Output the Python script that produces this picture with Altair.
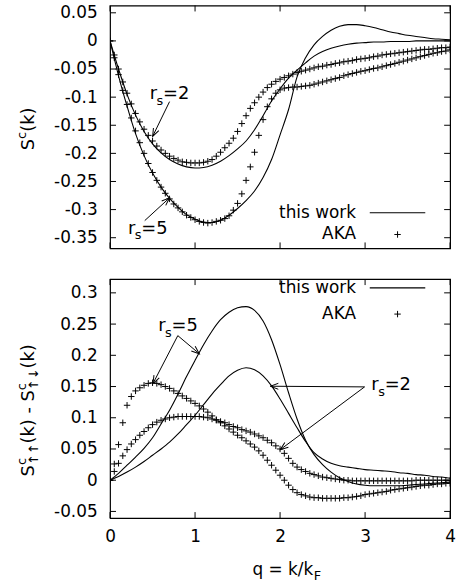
import math
import altair as alt
import pandas as pd

# ---------------- data ----------------
Q_LINE = [round(0.1 * i, 2) for i in range(41)]    # q grid of the solid curves
Q_AKA = [round(0.05 * i, 2) for i in range(81)]    # q grid of the AKA points

# upper panel: S^c(k)
TOP_THIS_RS2 = [0.0, -0.050, -0.095, -0.132, -0.161, -0.183, -0.199, -0.211, -0.219, -0.224,
                -0.226, -0.225, -0.221, -0.214, -0.204, -0.192, -0.178, -0.158, -0.133, -0.107,
                -0.085, -0.066, -0.052, -0.039, -0.027, -0.019, -0.013, -0.009, -0.006, -0.004,
                -0.003, -0.002, -0.002, -0.001, -0.001, -0.001, 0.0, 0.0, 0.0, 0.0, 0.0]
TOP_THIS_RS5 = [0.0, -0.062, -0.116, -0.165, -0.204, -0.235, -0.260, -0.280, -0.296, -0.309,
                -0.317, -0.322, -0.323, -0.319, -0.310, -0.298, -0.284, -0.267, -0.243, -0.211,
                -0.167, -0.122, -0.064, -0.030, -0.007, 0.008, 0.019, 0.026, 0.029, 0.029,
                0.027, 0.024, 0.020, 0.016, 0.013, 0.010, 0.008, 0.006, 0.004, 0.003, 0.002]
TOP_AKA_RS2 = [0.0, -0.025, -0.050, -0.073, -0.093, -0.112, -0.129, -0.144, -0.157, -0.168,
               -0.178, -0.187, -0.194, -0.200, -0.205, -0.209, -0.212, -0.215, -0.216, -0.217,
               -0.217, -0.217, -0.216, -0.214, -0.211, -0.205, -0.198, -0.190, -0.182, -0.173,
               -0.161, -0.147, -0.133, -0.120, -0.110, -0.100, -0.091, -0.083, -0.077, -0.072,
               -0.068, -0.065, -0.062, -0.059, -0.056, -0.054, -0.052, -0.050, -0.048, -0.046,
               -0.045, -0.043, -0.042, -0.040, -0.039, -0.037, -0.036, -0.035, -0.033, -0.032,
               -0.031, -0.030, -0.028, -0.027, -0.025, -0.024, -0.023, -0.022, -0.021, -0.020,
               -0.019, -0.018, -0.017, -0.016, -0.015, -0.015, -0.014, -0.013, -0.012, -0.012,
               -0.011]
TOP_AKA_RS5 = [0.0, -0.030, -0.060, -0.088, -0.113, -0.137, -0.160, -0.181, -0.200, -0.218,
               -0.234, -0.248, -0.260, -0.271, -0.281, -0.290, -0.297, -0.304, -0.310, -0.314,
               -0.318, -0.321, -0.323, -0.324, -0.323, -0.321, -0.319, -0.316, -0.311, -0.301,
               -0.289, -0.272, -0.248, -0.224, -0.198, -0.168, -0.140, -0.117, -0.103, -0.093,
               -0.087, -0.084, -0.083, -0.082, -0.082, -0.081, -0.080, -0.079, -0.077, -0.075,
               -0.073, -0.071, -0.069, -0.067, -0.065, -0.062, -0.060, -0.058, -0.056, -0.054,
               -0.053, -0.051, -0.049, -0.048, -0.046, -0.044, -0.042, -0.040, -0.038, -0.036,
               -0.034, -0.032, -0.030, -0.028, -0.026, -0.024, -0.022, -0.021, -0.019, -0.018,
               -0.016]

# lower panel: S^c_{up up}(k) - S^c_{up down}(k)
BOT_THIS_RS2 = [0.0, 0.006, 0.013, 0.021, 0.030, 0.040, 0.050, 0.061, 0.074, 0.089,
                0.104, 0.121, 0.138, 0.153, 0.167, 0.176, 0.180, 0.177, 0.167, 0.151,
                0.130, 0.107, 0.084, 0.062, 0.044, 0.034, 0.027, 0.023, 0.021, 0.019,
                0.017, 0.016, 0.015, 0.014, 0.012, 0.011, 0.009, 0.008, 0.006, 0.005, 0.003]
BOT_THIS_RS5 = [0.0, 0.011, 0.024, 0.037, 0.051, 0.068, 0.090, 0.112, 0.138, 0.166,
                0.192, 0.217, 0.239, 0.257, 0.269, 0.276, 0.278, 0.272, 0.255, 0.225,
                0.185, 0.140, 0.098, 0.064, 0.041, 0.025, 0.013, 0.004, -0.002, -0.006,
                -0.008, -0.009, -0.009, -0.009, -0.009, -0.008, -0.007, -0.006, -0.005, -0.004, -0.003]
BOT_AKA_RS2 = [0.0, 0.014, 0.027, 0.039, 0.049, 0.058, 0.065, 0.072, 0.078, 0.084,
               0.089, 0.093, 0.096, 0.098, 0.100, 0.101, 0.102, 0.102, 0.102, 0.102,
               0.102, 0.102, 0.101, 0.100, 0.098, 0.096, 0.094, 0.092, 0.089, 0.086,
               0.084, 0.081, 0.079, 0.077, 0.074, 0.071, 0.068, 0.064, 0.060, 0.055,
               0.050, 0.043, 0.035, 0.027, 0.021, 0.017, 0.014, 0.011, 0.009, 0.007,
               0.005, 0.004, 0.003, 0.002, 0.001, 0.000, 0.000, -0.001, -0.001, -0.001,
               -0.001, -0.001, -0.001, -0.001, -0.001, -0.001, -0.001, -0.001, -0.001, -0.001,
               -0.001, -0.001, 0.000, 0.000, 0.000, 0.000, 0.000, 0.000, 0.000, 0.000,
               0.000]
BOT_AKA_RS5 = [0.0, 0.026, 0.057, 0.092, 0.120, 0.134, 0.143, 0.148, 0.152, 0.155,
               0.156, 0.155, 0.153, 0.150, 0.147, 0.143, 0.139, 0.135, 0.131, 0.127,
               0.123, 0.119, 0.114, 0.109, 0.103, 0.097, 0.092, 0.087, 0.082, 0.077,
               0.072, 0.068, 0.063, 0.058, 0.053, 0.047, 0.040, 0.032, 0.024, 0.016,
               0.008, 0.000, -0.008, -0.015, -0.020, -0.023, -0.025, -0.027, -0.028, -0.028,
               -0.029, -0.029, -0.029, -0.029, -0.029, -0.028, -0.028, -0.027, -0.026, -0.025,
               -0.023, -0.022, -0.021, -0.020, -0.019, -0.018, -0.016, -0.015, -0.014, -0.013,
               -0.012, -0.011, -0.010, -0.009, -0.008, -0.008, -0.007, -0.006, -0.006, -0.005,
               -0.005]

X_TICKS = [0, 1, 2, 3, 4]
TOP_Y_TICKS = [-0.35, -0.3, -0.25, -0.2, -0.15, -0.1, -0.05, 0, 0.05]
BOT_Y_TICKS = [-0.05, 0, 0.05, 0.1, 0.15, 0.2, 0.25, 0.3]
TOP_Y_DOMAIN = [-0.369, 0.063]
BOT_Y_DOMAIN = [-0.0606, 0.322]

SERIES_LABELS = ["this work", "AKA"]

# annotations (anchor = baseline-left of the "r", in data units)
TOP_ANN = pd.DataFrame({"q": [0.466, 0.210], "v": [-0.1028, -0.3426], "eq": ["=2", "=5"]})
BOT_ANN = pd.DataFrame({"q": [0.566, 3.073], "v": [0.2394, 0.1442], "eq": ["=5", "=2"]})
TOP_ARROWS = pd.DataFrame({"q": [0.700, 0.408], "v": [-0.1080, -0.3196],
                           "q2": [0.501, 0.700], "v2": [-0.1698, -0.2791]})
BOT_ARROWS = pd.DataFrame({"q": [0.797, 0.797, 2.994, 2.994], "v": [0.2315, 0.2315, 0.1494, 0.1494],
                           "q2": [0.505, 1.050, 1.886, 2.002], "v2": [0.1548, 0.2025, 0.1505, 0.0489]})
# legend placement (data units): label right edge, sample line start/end, row levels
TOP_LEG = dict(qr=2.892, qa=3.055, qb=3.708, qc=3.382, rows=[-0.3055, -0.3443])
BOT_LEG = dict(qr=2.892, qa=3.055, qb=3.708, qc=3.382, rows=[0.3080, 0.2660])

# ---------------- styling ----------------
W = 343
H_TOP = 245
H_BOT = 241
FONT = "DejaVu Sans"
FS = 17
TICK = 6
CROSS = "M-1,0L1,0M0,-1L0,1"
HEAD = "M-2,-0.75L0,0L-2,0.75"
LABEL_EXPR = "datum.value < 0 ? '-' + format(-datum.value, '~g') : format(datum.value, '~g')"
DUMMY = pd.DataFrame({"a": [0]})


def long_df(qs, series_dict):
    rows = []
    for name, vals in series_dict.items():
        for q, v in zip(qs, vals):
            rows.append({"q": q, "v": v, "series": name})
    return pd.DataFrame(rows)


def panel(lines, aka, ydom, H, yticks, ann, arrows, leg, show_x, title_pieces):
    xs = alt.Scale(domain=[0, 4], nice=False, zero=False)
    ys = alt.Scale(domain=ydom, nice=False, zero=False)
    xax = (alt.Axis(values=X_TICKS, format="d", ticks=False, tickSize=0, domain=False, grid=False,
                    labelFlush=False, labelPadding=11, title=None) if show_x else None)
    yax = alt.Axis(values=yticks, labelExpr=LABEL_EXPR, ticks=False, tickSize=0, domain=False,
                   grid=False, labelPadding=13, title=None)

    def X(f="q"):
        return alt.X(f + ":Q", scale=xs, axis=xax)

    def Y(f="v"):
        return alt.Y(f + ":Q", scale=ys, axis=yax)

    layers = []
    layers.append(alt.Chart(lines).mark_line(color="black", strokeWidth=1.1, interpolate="monotone",
                                             clip=True).encode(x=X(), y=Y(), detail="series:N"))
    layers.append(alt.Chart(aka).mark_point(shape=CROSS, size=42, filled=False, color="black",
                                            strokeWidth=1, opacity=1, clip=True)
                  .encode(x=X(), y=Y(), detail="series:N"))

    # inward ticks on all four sides
    xt = pd.DataFrame({"q": X_TICKS})
    yt = pd.DataFrame({"v": yticks})
    rule = dict(color="black", strokeWidth=1)
    layers.append(alt.Chart(xt).mark_rule(**rule).encode(x=X(), y=alt.value(0), y2=alt.value(TICK)))
    layers.append(alt.Chart(xt).mark_rule(**rule).encode(x=X(), y=alt.value(H - TICK), y2=alt.value(H)))
    layers.append(alt.Chart(yt).mark_rule(**rule).encode(y=Y(), x=alt.value(0), x2=alt.value(TICK)))
    layers.append(alt.Chart(yt).mark_rule(**rule).encode(y=Y(), x=alt.value(W - TICK), x2=alt.value(W)))

    # arrows
    span = ydom[1] - ydom[0]
    arr = arrows.copy()
    arr["angle"] = [
        math.degrees(math.atan2(-(r.v2 - r.v) * H / span, (r.q2 - r.q) * W / 4)) % 360
        for r in arr.itertuples()
    ]
    layers.append(alt.Chart(arr).mark_rule(color="black", strokeWidth=1)
                  .encode(x=X(), y=Y(), x2=alt.X2("q2:Q"), y2=alt.Y2("v2:Q")))
    layers.append(alt.Chart(arr).mark_point(shape=HEAD, size=64, filled=False, color="black",
                                            strokeWidth=1, opacity=1)
                  .encode(x=X("q2"), y=Y("v2"), angle=alt.Angle("angle:Q", scale=None)))

    # r_s labels
    tx = dict(align="left", baseline="alphabetic", font=FONT, color="black")
    layers.append(alt.Chart(ann).mark_text(text="r", fontSize=18, **tx).encode(x=X(), y=Y()))
    layers.append(alt.Chart(ann).mark_text(text="s", fontSize=13, dx=7, dy=6, **tx).encode(x=X(), y=Y()))
    layers.append(alt.Chart(ann).mark_text(fontSize=18, dx=13.5, **tx).encode(x=X(), y=Y(), text="eq:N"))

    # legend
    lg = pd.DataFrame({"label": SERIES_LABELS, "v": leg["rows"], "q": [leg["qr"]] * 2})
    layers.append(alt.Chart(lg).mark_text(align="right", baseline="middle", font=FONT, fontSize=FS,
                                          color="black").encode(x=X(), y=Y(), text="label:N"))
    ls = pd.DataFrame({"q": [leg["qa"]], "q2": [leg["qb"]], "v": [leg["rows"][0]]})
    layers.append(alt.Chart(ls).mark_rule(color="black", strokeWidth=1.1)
                  .encode(x=X(), x2=alt.X2("q2:Q"), y=Y()))
    lp = pd.DataFrame({"q": [leg["qc"]], "v": [leg["rows"][1]]})
    layers.append(alt.Chart(lp).mark_point(shape=CROSS, size=42, filled=False, color="black",
                                           strokeWidth=1, opacity=1).encode(x=X(), y=Y()))

    # axis titles made of pieces (super/subscripts)
    for (txt, fs, xr, yr, ang, al) in title_pieces:
        layers.append(alt.Chart(DUMMY).mark_text(text=txt, fontSize=fs, angle=ang, align=al,
                                                 baseline="alphabetic", font=FONT, color="black")
                      .encode(x=alt.value(xr), y=alt.value(yr)))

    return alt.layer(*layers).properties(width=W, height=H)


top_lines = long_df(Q_LINE, {"rs2": TOP_THIS_RS2, "rs5": TOP_THIS_RS5})
top_aka = long_df(Q_AKA, {"rs2": TOP_AKA_RS2, "rs5": TOP_AKA_RS5})
bot_lines = long_df(Q_LINE, {"rs2": BOT_THIS_RS2, "rs5": BOT_THIS_RS5})
bot_aka = long_df(Q_AKA, {"rs2": BOT_AKA_RS2, "rs5": BOT_AKA_RS5})

TOP_TITLE = [("S", 18, -76.5, 146, 270, "left"), ("c", 13, -84.5, 134.6, 270, "left"),
             ("(k)", 18, -76.5, 127.4, 270, "left")]
BOT_TITLE = [("S", 18, -76.5, 199, 270, "left"), ("c", 13, -84.5, 187.6, 270, "left"),
             ("\u2191\u2191", 13, -72.5, 187.6, 270, "left"),
             ("(k) - S", 18, -76.5, 165.8, 270, "left"), ("c", 13, -84.5, 112, 270, "left"),
             ("\u2191\u2193", 13, -72.5, 112, 270, "left"), ("(k)", 18, -76.5, 90.2, 270, "left"),
             ("q = k/k", 17, 205, 298, 0, "right"), ("F", 13, 205.5, 303, 0, "left")]

top = panel(top_lines, top_aka, TOP_Y_DOMAIN, H_TOP, TOP_Y_TICKS, TOP_ANN, TOP_ARROWS, TOP_LEG, False, TOP_TITLE)
bot = panel(bot_lines, bot_aka, BOT_Y_DOMAIN, H_BOT, BOT_Y_TICKS, BOT_ANN, BOT_ARROWS, BOT_LEG, True, BOT_TITLE)

chart = (alt.vconcat(top, bot, spacing=27)
         .properties(padding={"left": 15, "top": 0, "right": 4, "bottom": 0})
         .configure_view(stroke="black", strokeWidth=1.2)
         .configure_axis(labelFont=FONT, labelFontSize=FS, labelColor="black"))

chart.save("out.html", embed_options={"renderer": "svg", "actions": False})
